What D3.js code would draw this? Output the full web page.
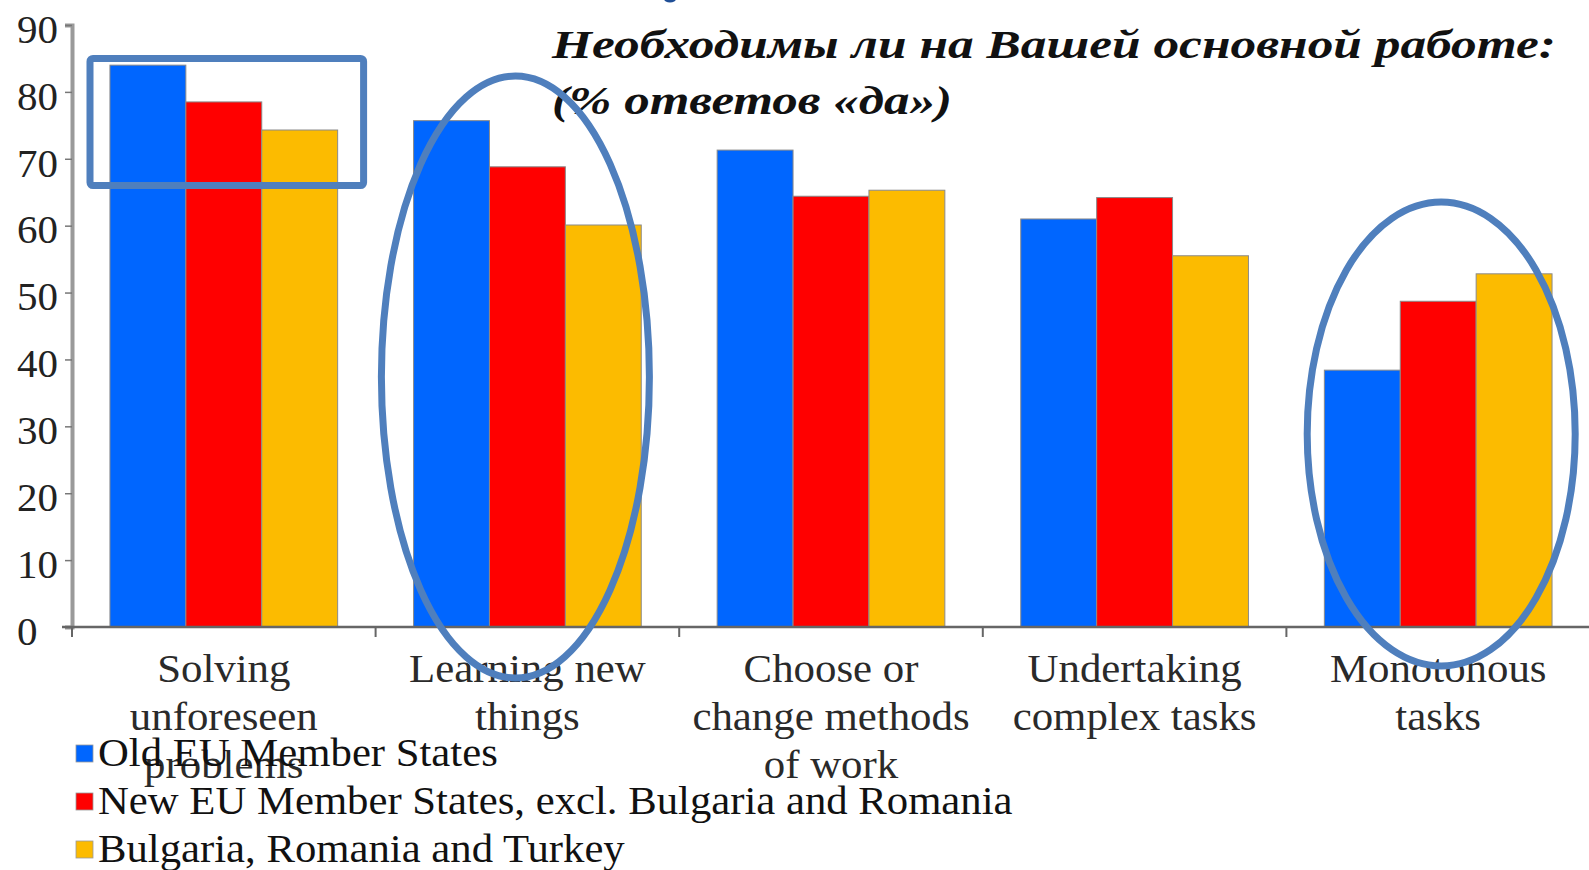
<!DOCTYPE html>
<html>
<head>
<meta charset="utf-8">
<script src="https://cdn.jsdelivr.net/npm/d3@7"></script>
<style>
  html, body { margin: 0; padding: 0; background: #fff; }
  svg { display: block; }
  text { font-family: "Liberation Serif", "Times New Roman", serif; }
</style>
</head>
<body>
<svg id="chart" width="1589" height="870"></svg>
<script>
//---- Data --------------------------------------------------------------------
var categories = [
  ["Solving", "unforeseen", "problems"],
  ["Learning new", "things"],
  ["Choose or", "change methods", "of work"],
  ["Undertaking", "complex tasks"],
  ["Monotonous", "tasks"]
];
var seriesNames = [
  "Old EU Member States",
  "New EU Member States, excl. Bulgaria and Romania",
  "Bulgaria, Romania and Turkey"
];
var oldEU = [84.0, 75.7, 71.3, 61.0, 38.4];
var newEU = [78.5, 68.8, 64.4, 64.2, 48.7];
var bgRoTr = [74.3, 60.1, 65.3, 55.5, 52.8];
var yTicks = [0, 10, 20, 30, 40, 50, 60, 70, 80, 90];
var titleLines = ["Необходимы ли на Вашей основной работе:", "(% ответов «да»)"];
var colors = ["#0066ff", "#ff0000", "#fcbb00"];

var series = [oldEU, newEU, bgRoTr];

//---- Scales ------------------------------------------------------------------
var svg = d3.select("#chart");
var x0 = d3.scaleBand().domain(d3.range(categories.length)).range([72, 1590]).padding(0);
var x1 = d3.scaleBand().domain(d3.range(series.length)).range([0, x0.bandwidth()])
  .paddingInner(0).paddingOuter(0.5);
var y = d3.scaleLinear().domain([0, 90]).range([627, 25]);

//---- Bars --------------------------------------------------------------------
var groups = svg.append("g").selectAll("g")
  .data(categories)
  .enter().append("g")
  .attr("transform", function (d, i) { return "translate(" + x0(i) + ",0)"; });

groups.selectAll("rect")
  .data(function (d, i) { return series.map(function (s, k) { return { k: k, v: s[i] }; }); })
  .enter().append("rect")
  .attr("x", function (d) { return x1(d.k); })
  .attr("width", x1.bandwidth())
  .attr("y", function (d) { return y(d.v); })
  .attr("height", function (d) { return y(0) - y(d.v); })
  .attr("fill", function (d) { return colors[d.k]; })
  .attr("stroke", "#8a8a8a")
  .attr("stroke-width", 1);

//---- Axes --------------------------------------------------------------------
var yAxis = svg.append("g")
  .attr("transform", "translate(72,0)")
  .call(d3.axisLeft(y).tickValues(yTicks).tickSize(7).tickPadding(0));
yAxis.select(".domain").attr("stroke", "#9a9a9a").attr("stroke-width", 4);
yAxis.selectAll(".tick line").attr("stroke", "#777").attr("stroke-width", 1.5);
yAxis.selectAll(".tick text")
  .attr("text-anchor", "start")
  .attr("x", -55)
  .attr("dy", "0.42em")
  .attr("fill", "#222")
  .style("font-size", "41px");

// x axis line and boundary ticks
svg.append("line")
  .attr("x1", 62).attr("x2", 1589)
  .attr("y1", y(0)).attr("y2", y(0))
  .attr("stroke", "#666").attr("stroke-width", 2.5);
svg.append("g").selectAll("line")
  .data(d3.range(categories.length + 1))
  .enter().append("line")
  .attr("x1", function (i) { return x0.range()[0] + i * x0.step(); })
  .attr("x2", function (i) { return x0.range()[0] + i * x0.step(); })
  .attr("y1", y(0)).attr("y2", y(0) + 10)
  .attr("stroke", "#666").attr("stroke-width", 2);

// category labels (the source font runs a little wider than Liberation Serif)
var lab = svg.append("g").selectAll("text")
  .data(categories)
  .enter().append("text")
  .attr("transform", function (d, i) {
    var cx = x0(i) + x0.bandwidth() / 2;
    return "translate(" + cx + ",682) scale(1.045,1)";
  })
  .attr("text-anchor", "middle")
  .attr("fill", "#2a2a2a")
  .style("font-size", "41px");
lab.selectAll("tspan")
  .data(function (d) { return d; })
  .enter().append("tspan")
  .attr("x", 0)
  .attr("dy", function (d, i) { return i === 0 ? 0 : 48; })
  .text(function (d) { return d; });

//---- Legend ------------------------------------------------------------------
var leg = svg.append("g").selectAll("g")
  .data(seriesNames)
  .enter().append("g")
  .attr("transform", function (d, i) { return "translate(76," + (745 + i * 48) + ")"; });
leg.append("rect")
  .attr("width", 17).attr("height", 17)
  .attr("fill", function (d, i) { return colors[i]; })
  .attr("stroke", "#999").attr("stroke-width", 0.8);
leg.append("text")
  .attr("transform", "translate(22,21) scale(1.068,1)")
  .attr("fill", "#111")
  .style("font-size", "40px")
  .text(function (d) { return d; });

//---- Title -------------------------------------------------------------------
svg.append("text")
  .attr("x", 552).attr("y", 58)
  .attr("textLength", 1004).attr("lengthAdjust", "spacingAndGlyphs")
  .style("font-size", "40px").style("font-weight", "bold").style("font-style", "italic")
  .attr("fill", "#111")
  .text(titleLines[0]);
svg.append("text")
  .attr("x", 552).attr("y", 114)
  .attr("textLength", 400).attr("lengthAdjust", "spacingAndGlyphs")
  .style("font-size", "40px").style("font-weight", "bold").style("font-style", "italic")
  .attr("fill", "#111")
  .text(titleLines[1]);

//---- Annotations -------------------------------------------------------------
var ann = "#4f7fbd";
svg.append("rect")
  .attr("x", x0(0) + 18).attr("y", y(85))
  .attr("width", x0.bandwidth() - 30).attr("height", y(66) - y(85))
  .attr("rx", 3)
  .attr("fill", "none").attr("stroke", ann).attr("stroke-width", 7);
svg.append("ellipse")
  .attr("cx", x0(1) + x0.bandwidth() / 2 - 12).attr("cy", 377)
  .attr("rx", 134).attr("ry", 301)
  .attr("fill", "none").attr("stroke", ann).attr("stroke-width", 7);
svg.append("ellipse")
  .attr("cx", x0(4) + x0.bandwidth() / 2 + 3).attr("cy", 434)
  .attr("rx", 134).attr("ry", 232)
  .attr("fill", "none").attr("stroke", ann).attr("stroke-width", 7);
// cut-off blue fragment at the very top edge of the source picture
svg.append("ellipse")
  .attr("cx", 670).attr("cy", -1)
  .attr("rx", 6).attr("ry", 3.5)
  .attr("fill", "#1f4e96");
</script>
</body>
</html>
